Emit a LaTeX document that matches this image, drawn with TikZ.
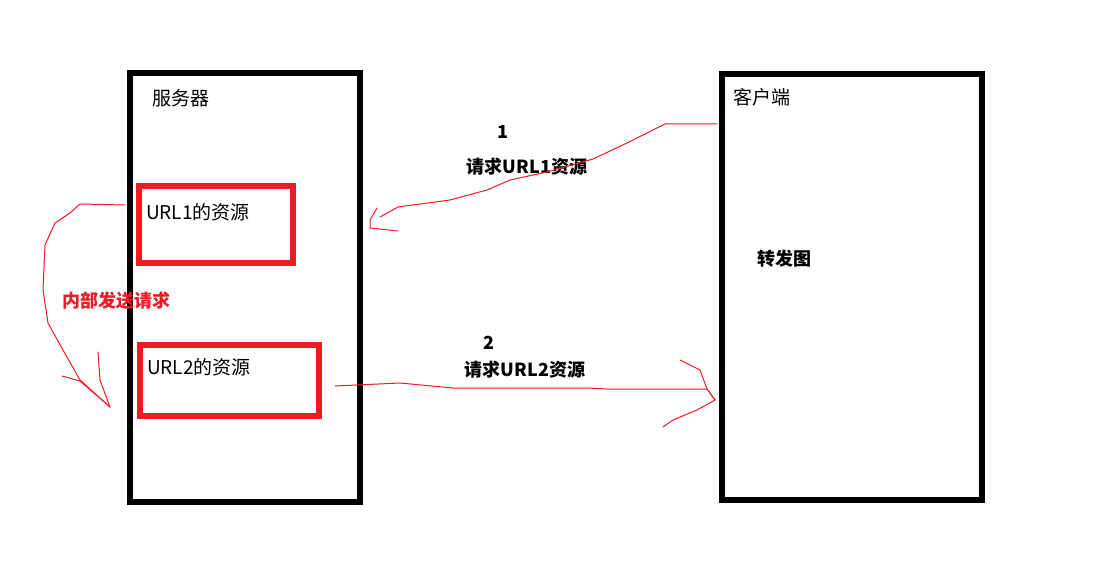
\documentclass[tikz,border=0pt]{standalone}
\usepackage{fontspec}
\setmainfont{Noto Sans CJK SC}
\definecolor{paintred}{RGB}{237,28,36}
\tikzset{
  box/.style={draw=black, line width=6pt, anchor=north west, inner sep=0pt, outer sep=0pt},
  resbox/.style={box, draw=paintred},
  lbl/.style={anchor=west, inner sep=0pt, font=\fontsize{19}{19}\selectfont},
  blbl/.style={lbl, anchor=center, font=\fontsize{18}{18}\selectfont\bfseries},
  hand/.style={paintred, line width=1pt, line join=round, line cap=round},
}
\begin{document}
\begin{tikzpicture}[x=1pt, y=-1pt]
    \useasboundingbox (0,0) rectangle (1100,580);
    \node[box, minimum width=230pt, minimum height=429pt] (srv) at (130,73) {};
    \node[box, minimum width=260pt, minimum height=426pt] (cli) at (722,74) {};
    \node[resbox, minimum width=154pt, minimum height=77pt] (res1) at (139,186) {};
    \node[resbox, minimum width=179pt, minimum height=71pt] (res2) at (140,345) {};
    \node[lbl] (srvname) at (152,98) {服务器};
    \node[lbl] (cliname) at (733,97) {客户端};
    \node[lbl] (url1) at (146,212) {URL1的资源};
    \node[lbl] (url2) at (147,367) {URL2的资源};
    \node[blbl] (fwd) at (784,259) {转发图};
    \node[blbl] (n1) at (503,132) {1};
    \node[blbl] (req1) at (527,167) {请求URL1资源};
    \node[blbl] (n2) at (489,343) {2};
    \node[blbl] (req2) at (525,370) {请求URL2资源};
    \node[blbl, text=paintred] (inner) at (116,301) {内部发送请求};
    \coordinate (c1) at (717,124);
    \coordinate (s1) at (398,231);
    \draw[hand] (c1) -- (665,124) -- (643,135) -- (627,143) -- (593,159) -- (547,172)
        -- (510,180) -- (487,190) -- (450,200) -- (398,207) -- (380,217);
    \draw[hand] (377,208) -- (370,220) -- (370,228) -- (s1);
    \coordinate (s2) at (335,386);
    \coordinate (c2) at (715,400);
    \draw[hand] (s2) -- (400,383) -- (453,388) -- (587,388) -- (607,389) -- (707,389) -- (c2);
    \draw[hand] (680,360) -- (700,370) -- (707,389) -- (c2) -- (697,410) -- (673,420) -- (663,427);
    \coordinate (s3) at (125,205);
    \coordinate (e3) at (110,407);
    \draw[hand] (s3) -- (80,204) -- (70,213) -- (55,223) -- (45,245) -- (43,290)
        -- (48,323) -- (63,350) -- (80,380) -- (e3);
    \draw[hand] (62,376) -- (80,381) -- (e3);
    \draw[hand] (98,352) -- (100,380) -- (e3);
\end{tikzpicture}
\end{document}
